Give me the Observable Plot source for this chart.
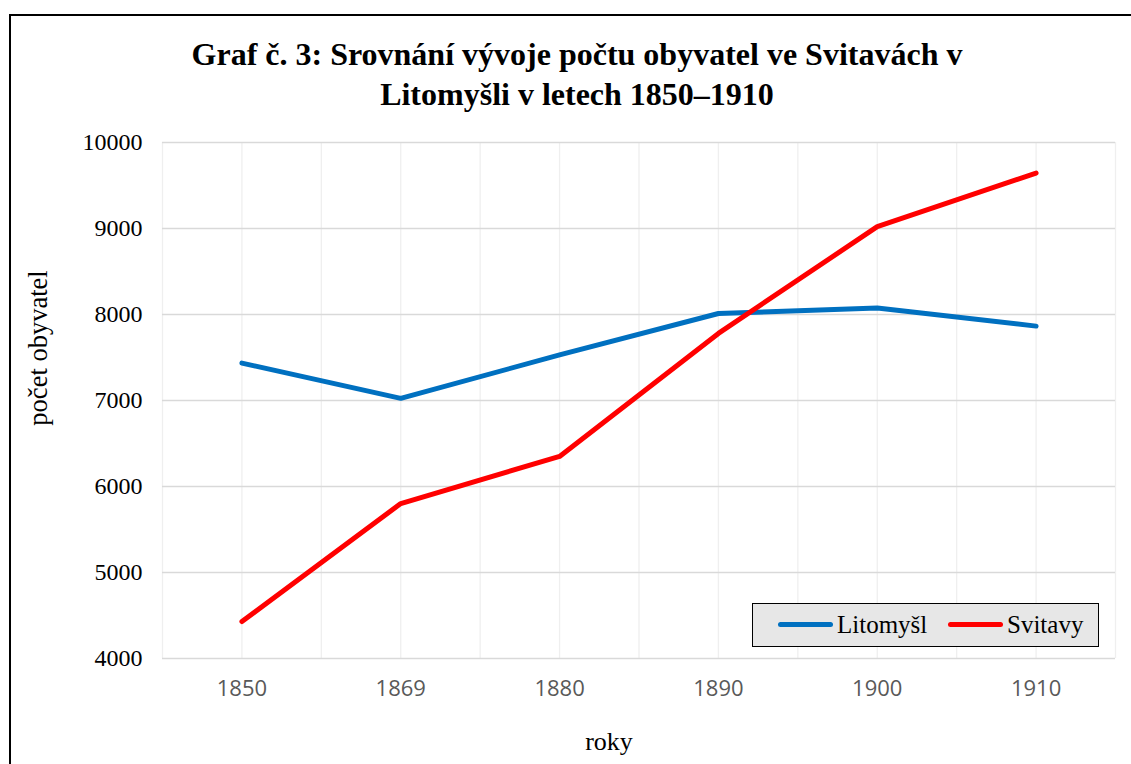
<!DOCTYPE html>
<html>
<head>
<meta charset="utf-8">
<script src="https://cdn.jsdelivr.net/npm/d3@7"></script>
<script src="https://cdn.jsdelivr.net/npm/@observablehq/plot@0.6"></script>
<style>
  html, body { margin: 0; padding: 0; background: #fff; overflow: hidden; width: 1131px; height: 764px; }
  #frame { position: absolute; left: 9px; top: 14px; width: 1300px; height: 900px; border: 2px solid #000; box-sizing: border-box; }
  #title { position: absolute; left: 0; width: 1154px; top: 34px; text-align: center; font-family: "Liberation Serif", serif; font-weight: bold; font-size: 32px; line-height: 40px; color: #000; }
  #chart { position: absolute; left: 0; top: 120px; }
  #ylabel { position: absolute; left: 38px; top: 348px; transform: translate(-50%, -50%) rotate(-90deg); font-family: "Liberation Serif", serif; font-size: 26.5px; white-space: nowrap; color: #000; }
  #xlabel { position: absolute; left: 609px; top: 742px; transform: translate(-50%, -50%); font-family: "Liberation Serif", serif; font-size: 26px; color: #000; }
  #legend { position: absolute; left: 752px; top: 603px; width: 347px; height: 44px; box-sizing: border-box; border: 1.5px solid #000; background: #e7e7e7; font-family: "Liberation Serif", serif; font-size: 25px; color: #000; }
  .item { position: absolute; top: 0; height: 41px; display: flex; align-items: center; }
  .sw { display: inline-block; width: 55px; height: 5px; border-radius: 3px; margin-right: 4px; }
</style>
</head>
<body>
<div id="frame"></div>
<div id="title"></div>
<div id="chart"></div>
<div id="ylabel"></div>
<div id="xlabel"></div>
<div id="legend"></div>
<script>
const titleLines = ["Graf č. 3: Srovnání vývoje počtu obyvatel ve Svitavách v", "Litomyšli v letech 1850–1910"];
const years = ["1850", "1869", "1880", "1890", "1900", "1910"];
const litomysl = [7435, 7025, 7530, 8012, 8075, 7865];
const svitavy = [4430, 5802, 6350, 7780, 9022, 9645];
const seriesNames = ["Litomyšl", "Svitavy"];
const seriesColors = ["#0070C0", "#FF0000"];
const yTicks = [4000, 5000, 6000, 7000, 8000, 9000, 10000];
const yLabel = "počet obyvatel";
const xLabel = "roky";

document.getElementById("title").innerHTML = titleLines.join("<br>");
document.getElementById("ylabel").textContent = yLabel;
document.getElementById("xlabel").textContent = xLabel;

const data = [];
years.forEach((y, i) => {
  data.push({i, year: y, value: litomysl[i], series: seriesNames[0]});
});
years.forEach((y, i) => {
  data.push({i, year: y, value: svitavy[i], series: seriesNames[1]});
});

const idx = d3.range(years.length);
const vGrid = d3.range(-0.5, years.length - 0.5 + 0.01, 0.5);

const chart = Plot.plot({
  width: 1131,
  height: 644,
  marginTop: 22,
  marginBottom: 106,
  marginLeft: 162,
  marginRight: 16,
  style: {background: "transparent", overflow: "visible"},
  x: {type: "linear", domain: [-0.5, years.length - 0.5]},
  y: {domain: [4000, 10000]},
  color: {domain: seriesNames, range: seriesColors},
  marks: [
    Plot.gridX(vGrid, {stroke: "#efefef", strokeOpacity: 1, strokeWidth: 1.3}),
    Plot.gridY(yTicks, {stroke: "#d9d9d9", strokeOpacity: 1, strokeWidth: 1.3}),
    Plot.axisY(yTicks, {tickSize: 0, tickPadding: 20, tickFormat: d => String(d), fontFamily: "Liberation Serif, serif", fontSize: 24, fill: "#000", label: null}),
    Plot.axisX(idx, {tickSize: 0, tickPadding: 22, tickFormat: i => years[i], fontFamily: "Open Sans, sans-serif", fontSize: 22, fill: "#595959", label: null}),
    Plot.line(data, {x: "i", y: "value", stroke: "series", z: "series", strokeWidth: 5, strokeLinecap: "round", strokeLinejoin: "round"})
  ]
});
document.getElementById("chart").appendChild(chart);

const legend = document.getElementById("legend");
const lefts = [25, 195];
seriesNames.forEach((n, k) => {
  const it = document.createElement("div");
  it.className = "item";
  it.style.left = lefts[k] + "px";
  const sw = document.createElement("span");
  sw.className = "sw";
  sw.style.background = seriesColors[k];
  it.appendChild(sw);
  it.appendChild(document.createTextNode(n));
  legend.appendChild(it);
});
</script>
</body>
</html>
